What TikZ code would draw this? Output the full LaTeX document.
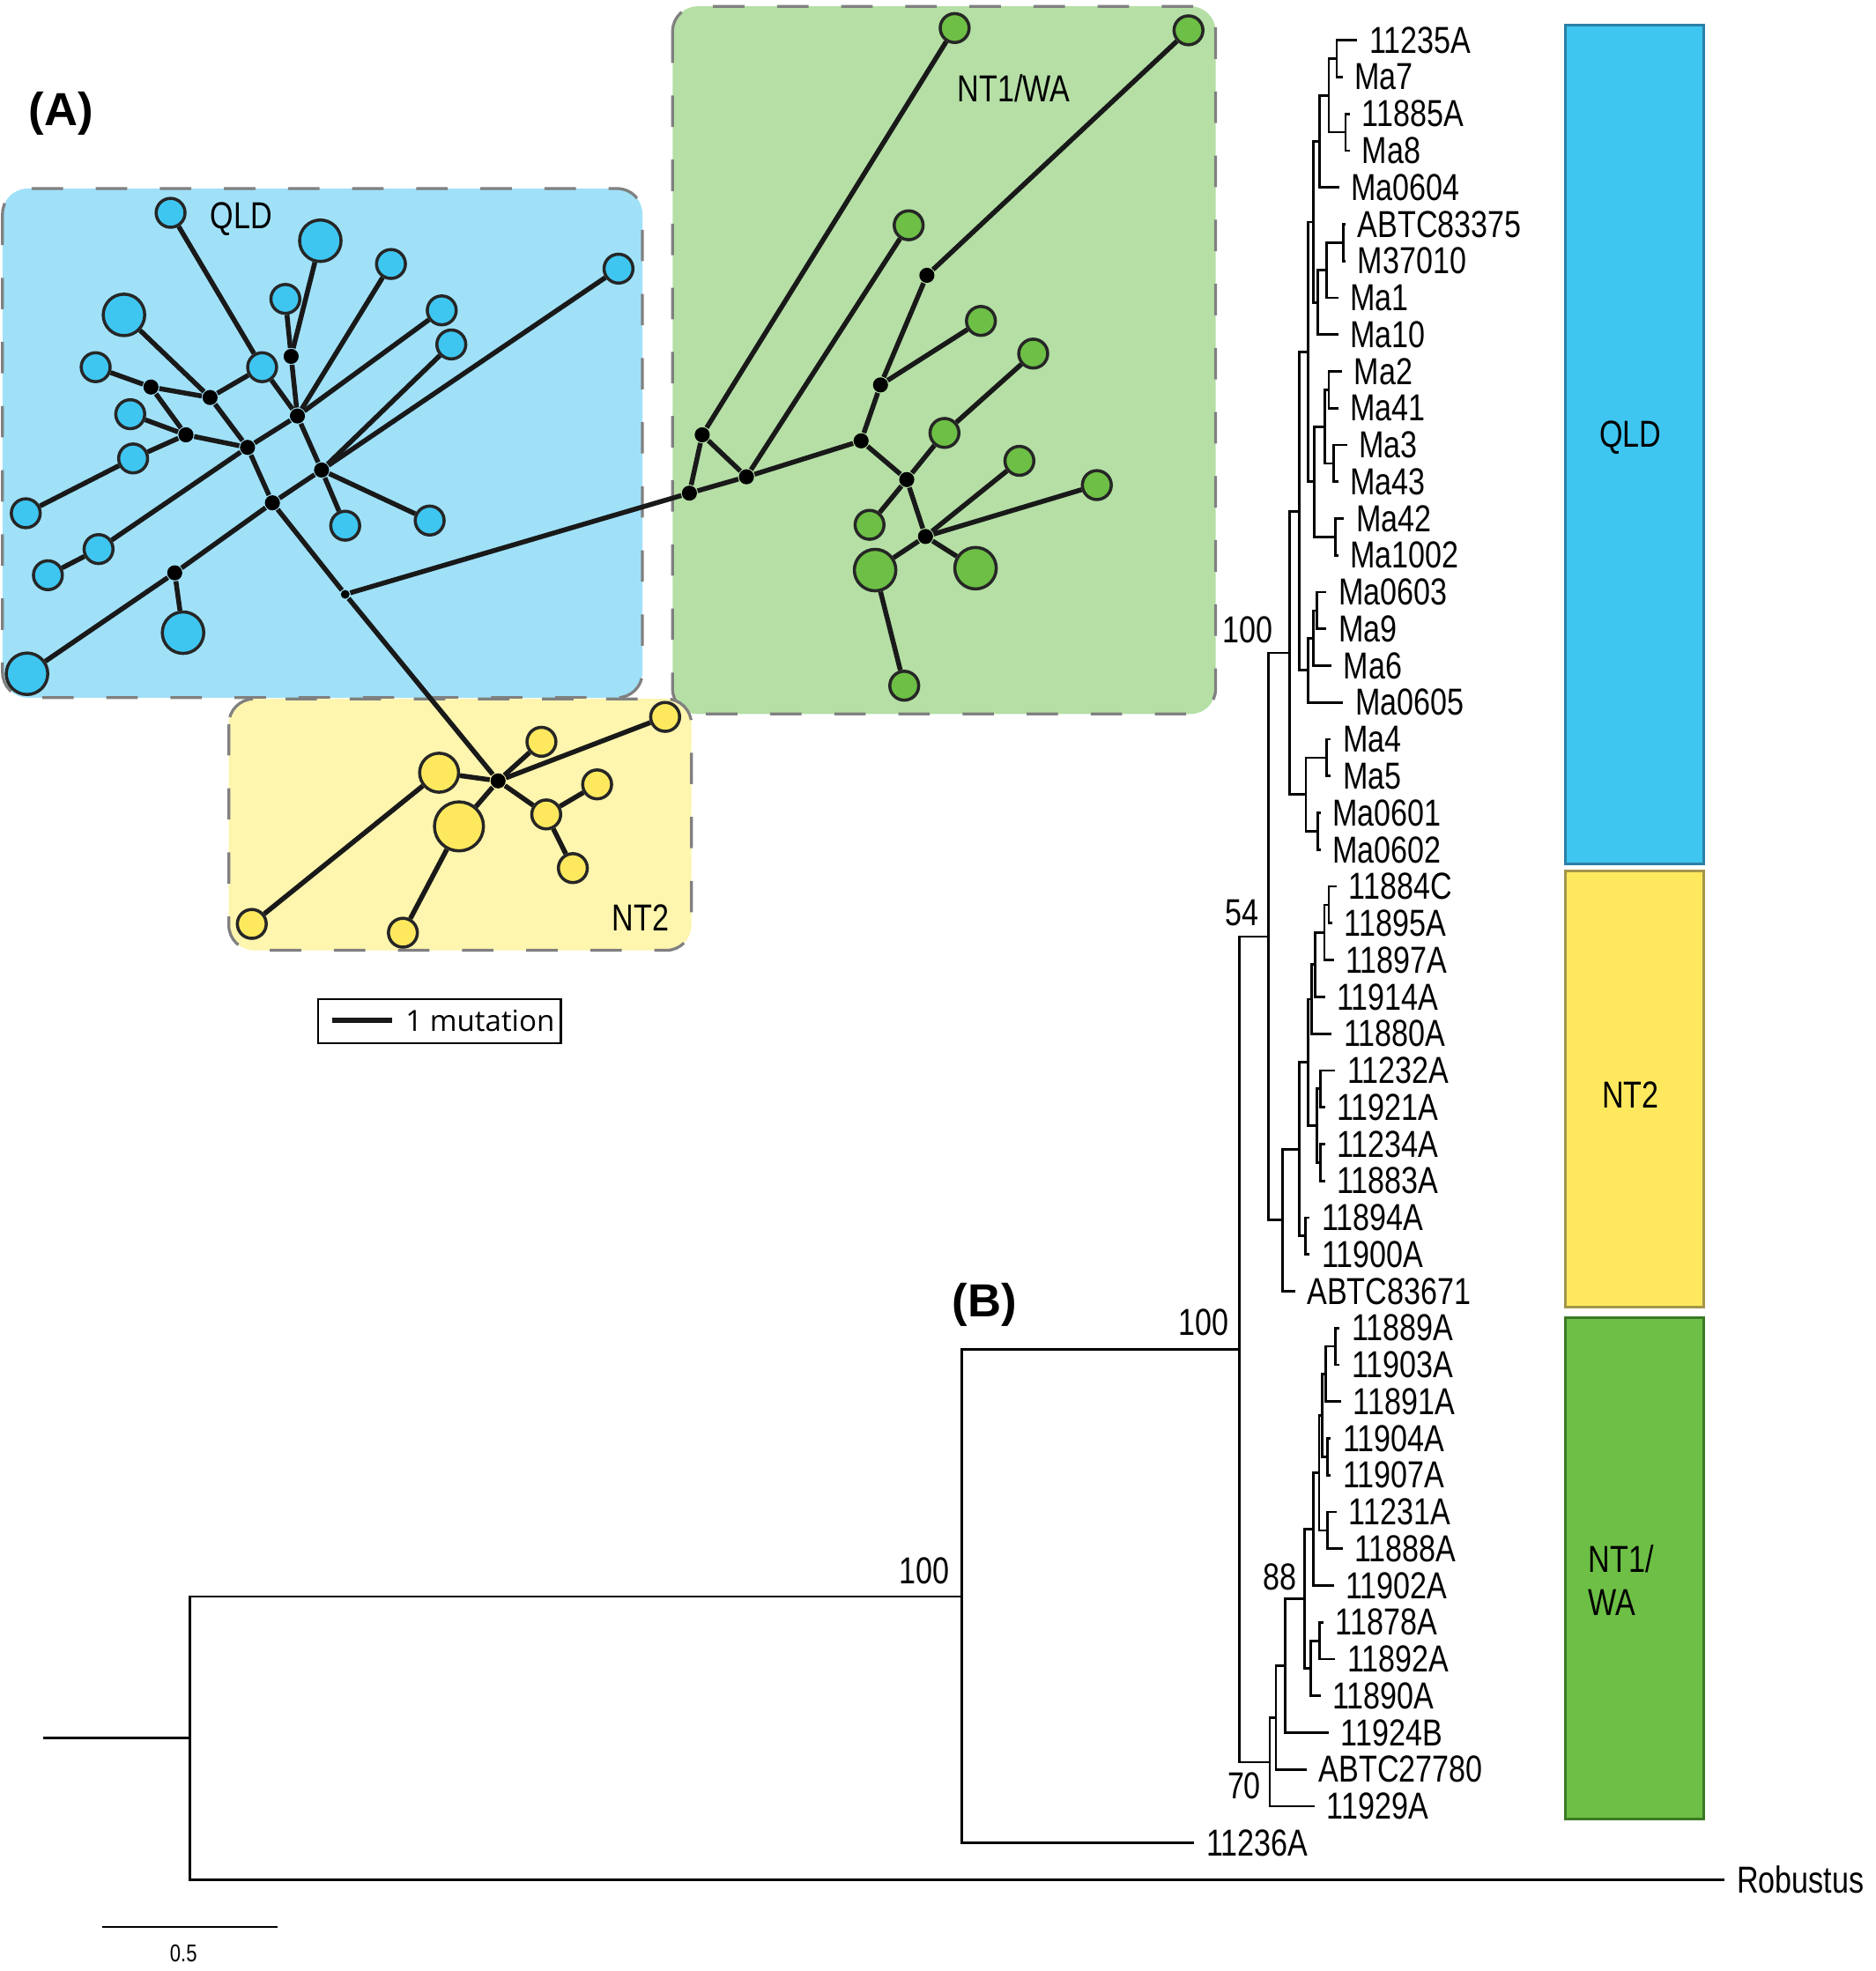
\documentclass[tikz,border=0pt]{standalone}
\usepackage{fontspec}
\setmainfont{Liberation Sans}
\newfontfamily\treefont[FakeStretch=0.8]{Liberation Sans}
\newfontfamily\legfont{Open Sans}
\usetikzlibrary{positioning}

\definecolor{boxgray}{HTML}{808080}
\definecolor{qldbg}{HTML}{A0E1F8}
\definecolor{qldhap}{HTML}{3EC6F1}
\definecolor{wabg}{HTML}{B5DFA5}
\definecolor{wahap}{HTML}{6DBF45}
\definecolor{ntbg}{HTML}{FEF5AE}
\definecolor{nthap}{HTML}{FEE95E}
\definecolor{qldedge}{HTML}{2A80A6}
\definecolor{ntedge}{HTML}{A3964A}
\definecolor{waedge}{HTML}{3B7A25}

% y of the k-th tip of the tree
\newcommand{\ky}[1]{32+29.27*(#1)}

\begin{document}
\begin{tikzpicture}[x=0.1mm, y=-0.1mm,
      region/.style={draw=boxgray, line width=0.65pt, dash pattern=on 2.5mm off 2.6mm, rounded corners=2mm},
      hap/.style={circle, draw=black!85, line width=0.7pt, inner sep=0pt, minimum size=2.3mm},
      big/.style={minimum size=3.3mm},
      hapb/.style={hap, fill=qldhap},
      hapg/.style={hap, fill=wahap},
      hapy/.style={hap, fill=nthap},
      mv/.style={circle, fill=black, inner sep=0pt, minimum size=1.2mm},
      link/.style={draw=black!90, line width=1.1pt},
      tag/.style={font=\treefont\fontsize{8.5}{9.7}\selectfont},
      leaf/.style={tag, anchor=west, inner xsep=0.9mm, inner ysep=0pt},
      bs/.style={tag, inner sep=0pt},
      br/.style={line width=0.55pt},
      bar/.style={rectangle, draw, line width=0.6pt, minimum width=11mm, inner sep=0pt}
  ]
      \useasboundingbox (0,0) rectangle (1492,1568);

      % (A) haplotype network
      \node[font=\fontsize{10.5}{12}\selectfont\bfseries] (labA) at (48.5,90) {(A)};

      \draw[region, fill=wabg] (535,5) rectangle (967,568);
      \draw[region, fill=qldbg] (2,150) rectangle (511,555);
      \draw[region, fill=ntbg] (182,556) rectangle (550,756);

      \node[tag] (labQLD) at (192,174) {QLD};
      \node[tag] (labWA) at (806.5,70.5) {NT1/WA};
      \node[tag] (labNT) at (509.6,730.4) {NT2};

      % QLD haplotypes
      \node[hapb] (b1) at (135.7,169.3) {};
      \node[hapb, big] (b2) at (254.8,191.5) {};
      \node[hapb] (b3) at (311,210) {};
      \node[hapb] (b4) at (227,237.8) {};
      \node[hapb, big] (b5) at (98.6,250.5) {};
      \node[hapb] (b6) at (351.4,246.9) {};
      \node[hapb] (b7) at (359,274) {};
      \node[hapb] (b8) at (492,213.7) {};
      \node[hapb] (b9) at (76.1,292.1) {};
      \node[hapb] (b10) at (208.5,292.1) {};
      \node[hapb] (b11) at (103.6,329.5) {};
      \node[hapb] (b12) at (105.9,364.7) {};
      \node[hapb] (b13) at (20.5,408.3) {};
      \node[hapb] (b14) at (274.6,418.2) {};
      \node[hapb] (b15) at (341.8,414.1) {};
      \node[hapb] (b16) at (78.4,436.8) {};
      \node[hapb] (b17) at (38.1,457.6) {};
      \node[hapb, big] (b18) at (145.6,503.3) {};
      \node[hapb, big] (b19) at (21.5,536) {};
      \node[mv] (ba) at (231.6,283.5) {};
      \node[mv] (bb) at (120.1,307.9) {};
      \node[mv] (bc) at (167.1,316.2) {};
      \node[mv] (bd) at (236.6,330.9) {};
      \node[mv] (be) at (147.9,345.9) {};
      \node[mv] (bf) at (196.9,355.9) {};
      \node[mv] (bg) at (255.8,373.9) {};
      \node[mv] (bh) at (216.7,400) {};
      \node[mv] (bi) at (139,455.7) {};
      \node[mv, minimum size=0.7mm] (bj) at (274.6,472.8) {};

      % NT1/WA haplotypes
      \node[hapg] (g1) at (759.4,22.3) {};
      \node[hapg] (g2) at (945.4,24.1) {};
      \node[hapg] (g3) at (722.8,179.2) {};
      \node[hapg] (g4) at (780.3,255.3) {};
      \node[hapg] (g5) at (821.9,281.3) {};
      \node[hapg] (g6) at (751.3,344.4) {};
      \node[hapg] (g7) at (810.9,366.6) {};
      \node[hapg] (g8) at (872.5,385.9) {};
      \node[hapg] (g9) at (691.7,417.5) {};
      \node[hapg, big] (g10) at (696.1,453.5) {};
      \node[hapg, big] (g11) at (776,452) {};
      \node[hapg] (g12) at (719.3,545.5) {};
      \node[mv] (ga) at (558.6,345.9) {};
      \node[mv] (gb) at (548.4,392.3) {};
      \node[mv] (gc) at (593.8,379.3) {};
      \node[mv] (gd) at (737.3,219) {};
      \node[mv] (ge) at (700.4,306.2) {};
      \node[mv] (gf) at (685,350.7) {};
      \node[mv] (gg) at (721.3,381.5) {};
      \node[mv] (gh) at (736.2,426.8) {};

      % NT2 haplotypes
      \node[hapy] (y1) at (529.1,570.3) {};
      \node[hapy] (y2) at (430.7,590.1) {};
      \node[hapy, minimum size=3.1mm] (y3) at (349.3,614.7) {};
      \node[hapy] (y4) at (475,624) {};
      \node[hapy, minimum size=3.9mm] (y5) at (365.1,657.4) {};
      \node[hapy] (y6) at (434.5,647.9) {};
      \node[hapy] (y7) at (455.7,690.6) {};
      \node[hapy] (y8) at (200.3,735) {};
      \node[hapy] (y9) at (320.5,742) {};
      \node[mv] (yc) at (396.2,621.2) {};

      % mutation steps
      \foreach \a/\b in {b1/b10, b10/bd, b10/bc, b2/ba, b4/ba, ba/bd, b3/bd, b6/bd,
          b7/bg, b8/bg, b5/bc, bc/bf, b9/bb, bb/bc, bb/be, b11/be, b12/be, b13/b12,
          be/bf, bf/bd, bf/b16, b16/b17, bf/bh, bd/bg, bg/bh, bg/b14, bg/b15,
          bh/bi, bi/b19, bi/b18, bh/bj, bj/gb, bj/yc,
          gb/ga, ga/g1, ga/gc, gb/gc, gc/g3, gc/gf, gf/ge, ge/gd, gd/g2, ge/g4,
          gf/gg, gg/g6, g6/g5, gg/g9, gg/gh, gh/g7, gh/g8, gh/g10, gh/g11, g10/g12,
          yc/y1, yc/y2, yc/y3, yc/y5, yc/y6, y3/y8, y5/y9, y6/y4, y6/y7}
        \draw[link] (\a) -- (\b);

      % scale of the network
      \node[draw, line width=0.5pt, minimum width=19.3mm, minimum height=3.5mm, inner sep=0pt] (legbox) at (349.5,812.5) {};
      \coordinate (m0) at (264,811.7);
      \coordinate (m1) at (312,811.7);
      \draw[line width=1.3pt, black!90] (m0) -- (m1);
      \node[anchor=west, inner sep=0pt, font=\legfont\fontsize{6.6}{8}\selectfont] (legtxt) at (322,812) {1 mutation};

      % (B) tree
      \node[font=\fontsize{10.5}{12}\selectfont\bfseries] (labB) at (783,1038) {(B)};

      \foreach \k/\lab/\tx in {
          0/11235A/1079.7, 1/Ma7/1068.0, 2/11885A/1073.8, 3/Ma8/1073.8, 4/Ma0604/1065.2,
          5/ABTC83375/1070.3, 6/M37010/1070.3, 7/Ma1/1064.5, 8/Ma10/1064.5,
          9/Ma2/1067.5, 10/Ma41/1064.5, 11/Ma3/1071.5, 12/Ma43/1064.5, 13/Ma42/1069.2, 14/Ma1002/1064.5,
          15/Ma0603/1055.1, 16/Ma9/1055.1, 17/Ma6/1059.1, 18/Ma0605/1068.5,
          19/Ma4/1058.6, 20/Ma5/1058.6, 21/Ma0601/1050.5, 22/Ma0602/1050.5,
          23/11884C/1063.3, 24/11895A/1059.8, 25/11897A/1061.0, 26/11914A/1054.0, 27/11880A/1059.3,
          28/11232A/1062.1, 29/11921A/1054.0, 30/11234A/1054.0, 31/11883A/1054.0,
          32/11894A/1041.8, 33/11900A/1041.8, 34/ABTC83671/1030.1,
          35/11889A/1065.7, 36/11903A/1065.7, 37/11891A/1066.8, 38/11904A/1058.6, 39/11907A/1058.6,
          40/11231A/1063.3, 41/11888A/1068.0, 42/11902A/1061.0, 43/11878A/1052.8, 44/11892A/1062.1,
          45/11890A/1050.5, 46/11924B/1057.0, 47/ABTC27780/1039.5, 48/11929A/1045.8,
          49/11236A/950, 50/Robustus/1372}
        \node[leaf] (L\k) at (\tx,{\ky{\k}}) {\lab};

      % inner nodes: name / x / tip index
      \foreach \n/\x/\k in {
          qa/1063.3/0.5, qb/1070.3/2.5, qc/1057.0/1.5, qd/1049.8/2.75,
          qe/1068.5/5.5, qf/1055.4/6.25, qg/1048.1/7.125, qh/1044.6/4.94,
          qi/1057.0/9.5, qj/1061.0/11.5, qk/1054.0/10.5, ql/1062.1/13.5, qm/1045.3/12, qn/1040.4/8.47,
          qo/1047.7/15.5, qp/1044.6/16.25, qq/1040.4/17.125, qr/1033.4/12.8,
          qs/1055.4/19.5, qt/1048.1/21.5, qu/1038.8/20.5, qv/1025.9/16.65,
          na/1057.0/23.5, nb/1053.5/24.25, nc/1046.3/25.125, nd/1043.5/26.06,
          ne/1050.5/28.5, nf/1050.5/30.5, ng/1047.7/29.5, nh/1040.4/27.78,
          ni/1038.3/32.5, nj/1033.4/30.14, nk/1020.1/32.07, ra/1009.1/24.36,
          wa/1062.1/35.5, wb/1054.4/36.25, wc/1055.8/38.5, wd/1051.6/37.375,
          we/1055.8/40.5, wf/1049.3/38.94, wg/1044.6/40.47, wh/1049.8/43.5, wi/1042.7/44.25,
          wj/1037.6/42.36, wk/1022.4/44.18, wl/1015.0/45.59, wm/1010.0/46.8,
          rb/985.7/35.58, rc/765/42.3, rt/151/46.15}
        \coordinate (\n) at (\x,{\ky{\k}});
      \coordinate (r0) at (34,{\ky{46.15}});

      % branches
      \foreach \p/\c in {qa/L0, qa/L1, qb/L2, qb/L3, qc/qa, qc/qb, qd/qc, qd/L4,
          qe/L5, qe/L6, qf/qe, qf/L7, qg/qf, qg/L8, qh/qd, qh/qg,
          qi/L9, qi/L10, qj/L11, qj/L12, qk/qi, qk/qj, ql/L13, ql/L14, qm/qk, qm/ql, qn/qh, qn/qm,
          qo/L15, qo/L16, qp/qo, qp/L17, qq/qp, qq/L18, qr/qn, qr/qq,
          qs/L19, qs/L20, qt/L21, qt/L22, qu/qs, qu/qt, qv/qr, qv/qu,
          na/L23, na/L24, nb/na, nb/L25, nc/nb, nc/L26, nd/nc, nd/L27,
          ne/L28, ne/L29, nf/L30, nf/L31, ng/ne, ng/nf, nh/nd, nh/ng,
          ni/L32, ni/L33, nj/nh, nj/ni, nk/nj, nk/L34, ra/qv, ra/nk,
          wa/L35, wa/L36, wb/wa, wb/L37, wc/L38, wc/L39, wd/wb, wd/wc,
          we/L40, we/L41, wf/wd, wf/we, wg/wf, wg/L42, wh/L43, wh/L44, wi/wh, wi/L45,
          wj/wg, wj/wi, wk/wj, wk/L46, wl/wk, wl/L47, wm/wl, wm/L48,
          rb/ra, rb/wm, rc/rb, rc/L49, rt/rc, rt/L50}
        \draw[br] (\p) |- (\c);
      \draw[br] (r0) -- (rt);

      % bootstrap values
      \node[bs, anchor=south east, xshift=-1.29mm, yshift=0.7mm] (bsQLD) at (qv) {100};
      \node[bs, anchor=south east, xshift=-0.7mm, yshift=0.77mm] (bs54) at (ra) {54};
      \node[bs, anchor=south east, xshift=-0.77mm, yshift=1.0mm] (bsIn) at (rb) {100};
      \node[bs, anchor=south east, xshift=-0.58mm, yshift=0.6mm] (bs88) at (wj) {88};
      \node[bs, anchor=north east, xshift=-0.63mm, yshift=-0.77mm] (bs70) at (wm) {70};
      \node[bs, anchor=south east, xshift=-0.94mm, yshift=0.94mm] (bsOut) at (rc) {100};

      % scale bar
      \coordinate (s0) at (81,1533);
      \coordinate (s1) at (221,1533);
      \draw[br] (s0) -- (s1);
      \node[font=\treefont\fontsize{5.5}{6}\selectfont] (sval) at (146,1554) {0.5};

      % clade bars
      \node[bar, fill=qldhap, draw=qldedge, minimum height=66.7mm] (barQLD) at (1300,353.5) {};
      \node[bar, fill=nthap, draw=ntedge, minimum height=34.7mm] (barNT) at (1300,866.5) {};
      \node[bar, fill=wahap, draw=waedge, minimum height=39.9mm] (barWA) at (1300,1247.5) {};
      \node[tag] (tQLD) at (1297,348) {QLD};
      \node[tag] (tNT) at (1297,871) {NT2};
      \node[tag, align=left, anchor=west, inner sep=0pt] (tWA) at (1263,1257) {NT1/\\WA};
  \end{tikzpicture}
\end{document}
